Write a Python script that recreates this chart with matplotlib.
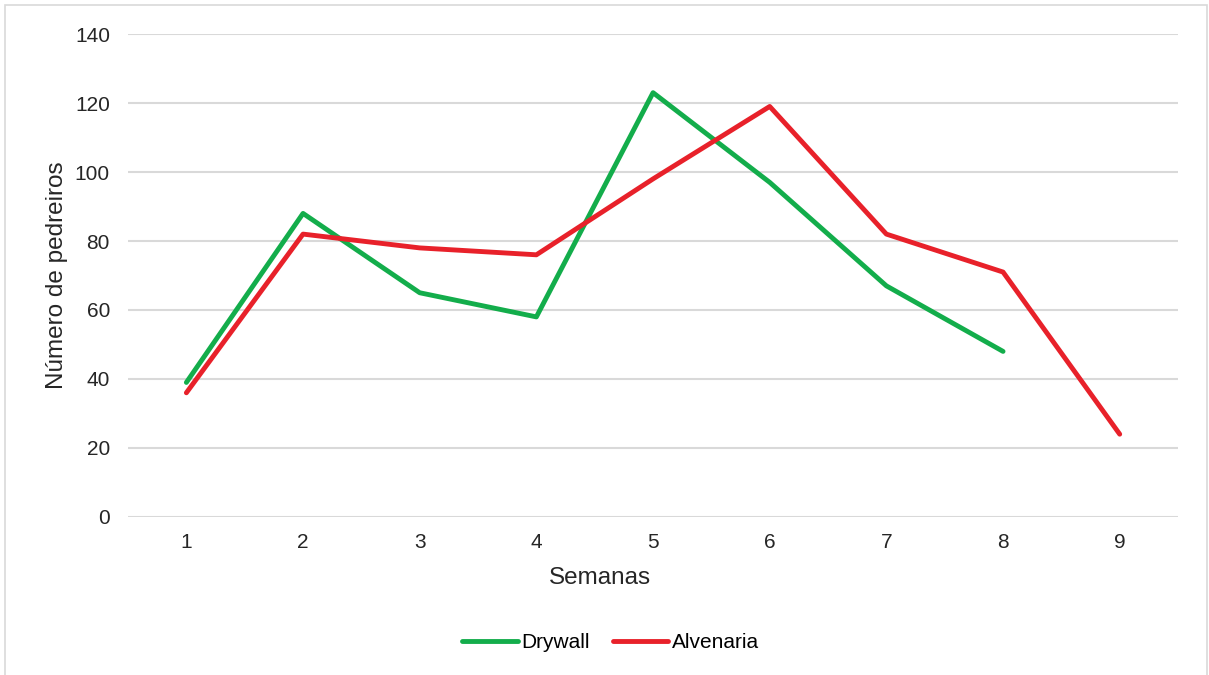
import matplotlib
matplotlib.use("Agg")
import matplotlib.pyplot as plt
from matplotlib.patches import Rectangle

plt.rcParams['font.family'] = ['Liberation Sans', 'DejaVu Sans']

semanas = [1, 2, 3, 4, 5, 6, 7, 8, 9]
drywall = [39, 88, 65, 58, 123, 97, 67, 48]
alvenaria = [36, 82, 78, 76, 98, 119, 82, 71, 24]
y_ticks = [0, 20, 40, 60, 80, 100, 120, 140]

fig = plt.figure(figsize=(12.09, 6.75), dpi=100)
ax = fig.add_axes([0.1059, 0.2341, 0.8685, 0.7155])

# moldura cinza clara em volta do gráfico
fig.patches.append(Rectangle((5 / 1209, -0.01), 1202 / 1209, 1 - 5 / 675 + 0.01,
                             transform=fig.transFigure, fill=False,
                             edgecolor='#D9D9D9', linewidth=1.2))

ax.plot(semanas[:len(drywall)], drywall, color='#13AD4B', linewidth=3.5,
        solid_capstyle='round', solid_joinstyle='round', label='Drywall')
ax.plot(semanas, alvenaria, color='#E8212A', linewidth=3.5,
        solid_capstyle='round', solid_joinstyle='round', label='Alvenaria')

ax.set_xlim(0.5, 9.5)
ax.set_ylim(0, 140)
ax.set_xticks(semanas)
ax.set_yticks(y_ticks)
ax.grid(axis='y', color='#D9D9D9', linewidth=1.5)
ax.set_axisbelow(True)
for s in ax.spines.values():
    s.set_visible(False)
ax.tick_params(length=0, labelsize=15, colors='#262626')
ax.tick_params(axis='x', pad=11.5)
ax.tick_params(axis='y', pad=13)

ax.set_xlabel('Semanas', fontsize=17.5, color='#262626')
ax.set_ylabel('Número de pedreiros', fontsize=17.5, color='#262626')
ax.xaxis.set_label_coords(0.4495, -0.103)
ax.yaxis.set_label_coords(-0.057, 0.5)

fig.legend(loc='center', bbox_to_anchor=(0.505, 1 - 643 / 675), ncol=2,
           frameon=False, fontsize=15, handlelength=2.65, handletextpad=0.15,
           columnspacing=1.15)

fig.savefig('out.png', dpi=100)
